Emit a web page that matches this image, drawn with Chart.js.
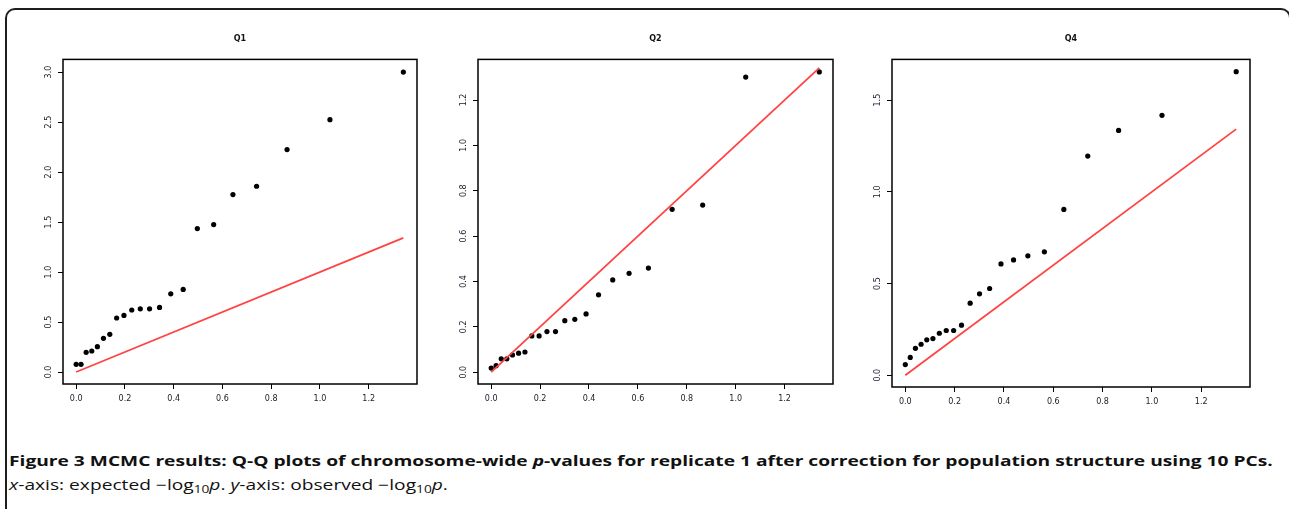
<!DOCTYPE html>
<html>
<head>
<meta charset="utf-8">
<script src="https://cdn.jsdelivr.net/npm/chart.js@4.4.0/dist/chart.umd.min.js"></script>
<style>
    body {
        margin: 0;
        width: 1289px;
        height: 509px;
        overflow: hidden;
        background: #fff;
        position: relative;
        font-family: "Open Sans", sans-serif;
    }
    .frame {
        position: absolute;
        left: 5px;
        top: 8px;
        width: 1282px;
        height: 520px;
        border: 2px solid #1e1e1e;
        border-radius: 10px;
    }
    canvas {
        position: absolute;
    }
    .caption {
        position: absolute;
        left: 9px;
        white-space: nowrap;
        color: #111;
        line-height: 20px;
        transform-origin: 0 50%;
        transform: scaleX(1.37);
    }
    #cap1 {
        top: 451px;
        font-size: 14px;
        font-weight: bold;
    }
    #cap2 {
        top: 475px;
        font-size: 14px;
    }
    sub {
        font-size: 10px;
        vertical-align: -3px;
        line-height: 0;
    }
</style>
</head>
<body>
<div class="frame"></div>
<canvas id="chartQ1" width="407" height="389" style="left:20px;top:25px"></canvas>
<canvas id="chartQ2" width="408" height="389" style="left:435px;top:25px"></canvas>
<canvas id="chartQ4" width="411" height="392" style="left:849px;top:25px"></canvas>
<div class="caption" id="cap1">Figure 3 MCMC results: Q-Q plots of chromosome-wide <i>p</i>-values for replicate 1 after correction for population structure using 10 PCs.</div>
<div class="caption" id="cap2"><i>x</i>-axis: expected −log<sub>10</sub><i>p</i>. <i>y</i>-axis: observed −log<sub>10</sub><i>p</i>.</div>

<script>
// expected -log10(p), same for all three panels
const expected = [0.000, 0.020, 0.041, 0.064, 0.087, 0.112, 0.138, 0.166, 0.196, 0.228, 0.263,
    0.301, 0.342, 0.388, 0.439, 0.497, 0.564, 0.643, 0.740, 0.865, 1.041, 1.342];

// observed -log10(p)
const observedQ1 = [0.077, 0.077, 0.197, 0.210, 0.253, 0.337, 0.377, 0.540, 0.566, 0.620, 0.632,
    0.632, 0.646, 0.782, 0.826, 1.435, 1.475, 1.775, 1.858, 2.225, 2.524, 3.000];
const observedQ2 = [0.018, 0.029, 0.059, 0.059, 0.076, 0.084, 0.089, 0.160, 0.160, 0.179, 0.179,
    0.227, 0.233, 0.257, 0.341, 0.407, 0.436, 0.459, 0.718, 0.737, 1.301, 1.324];
const observedQ4 = [0.058, 0.097, 0.147, 0.169, 0.193, 0.200, 0.229, 0.244, 0.244, 0.273, 0.393,
    0.444, 0.473, 0.607, 0.629, 0.651, 0.673, 0.904, 1.195, 1.335, 1.417, 1.655];

// y = x reference line
const referenceLine = [0, 1.342];

// tick labels
const xTicks = [0, 0.2, 0.4, 0.6, 0.8, 1.0, 1.2];
const yTicksQ1 = [0, 0.5, 1.0, 1.5, 2.0, 2.5, 3.0];
const yTicksQ2 = [0, 0.2, 0.4, 0.6, 0.8, 1.0, 1.2];
const yTicksQ4 = [0, 0.5, 1.0, 1.5];

const tickFont = {family: "'DejaVu Sans', sans-serif", size: 8};

const boxPlugin = {
    id: "plotBox",
    afterDraw: (chart) => {
        const {ctx, chartArea} = chart;
        ctx.save();
        ctx.strokeStyle = "#000";
        ctx.lineWidth = 1.5;
        ctx.strokeRect(chartArea.left, chartArea.top, chartArea.width, chartArea.height);
        ctx.restore();
    },
};

const generateChart = (id, title, observed, yMin, yMax, yTicks) => {
    const ctx = document.getElementById(id).getContext("2d");

    return new Chart(ctx, {
        type: "scatter",
        data: {
            datasets: [{
                data: referenceLine.map(v => ({x: v, y: v})),
                showLine: true,
                borderColor: "#ff4343",
                borderWidth: 1.8,
                pointRadius: 0,
            }, {
                data: expected.map((x, i) => ({x: x, y: observed[i]})),
                pointRadius: 2.6,
                pointBackgroundColor: "#000",
                pointBorderWidth: 0,
            }]
        },
        plugins: [boxPlugin],
        options: {
            responsive: false,
            animation: false,
            devicePixelRatio: 1,
            events: [],
            layout: {
                padding: {left: 0, right: 10, top: 0, bottom: 0},
            },
            plugins: {
                legend: {display: false},
                tooltip: {enabled: false},
                title: {
                    display: true,
                    text: title,
                    fullSize: false,
                    color: "#111",
                    font: {family: "'DejaVu Sans', sans-serif", size: 8, weight: "bold"},
                    padding: {top: 9, bottom: 15.8},
                },
            },
            scales: {
                x: {
                    type: "linear",
                    min: -0.054,
                    max: 1.398,
                    border: {display: false},
                    grid: {drawOnChartArea: false, tickLength: 5, color: "#000", lineWidth: 1},
                    ticks: {
                        font: tickFont,
                        color: "#1a1a2a",
                        padding: 5,
                        maxRotation: 0,
                        autoSkip: false,
                        callback: (v) => v.toFixed(1),
                    },
                    afterBuildTicks: (scale) => {
                        scale.ticks = xTicks.map(value => ({value}));
                    },
                    afterFit: (scale) => {
                        scale.height = 30;
                    },
                },
                y: {
                    type: "linear",
                    min: yMin,
                    max: yMax,
                    border: {display: false},
                    grid: {drawOnChartArea: false, tickLength: 5, color: "#000", lineWidth: 1},
                    ticks: {
                        font: tickFont,
                        color: "#1a1a2a",
                        padding: 3,
                        minRotation: 90,
                        maxRotation: 90,
                        crossAlign: "center",
                        autoSkip: false,
                        callback: (v) => v.toFixed(1),
                    },
                    afterBuildTicks: (scale) => {
                        scale.ticks = yTicks.map(value => ({value}));
                    },
                    afterFit: (scale) => {
                        scale.width = 43;
                    },
                },
            },
        },
    });
}

generateChart("chartQ1", "Q1", observedQ1, -0.12, 3.127, yTicksQ1);
generateChart("chartQ2", "Q2", observedQ2, -0.052, 1.379, yTicksQ2);
generateChart("chartQ4", "Q4", observedQ4, -0.064, 1.722, yTicksQ4);
</script>
</body>
</html>
